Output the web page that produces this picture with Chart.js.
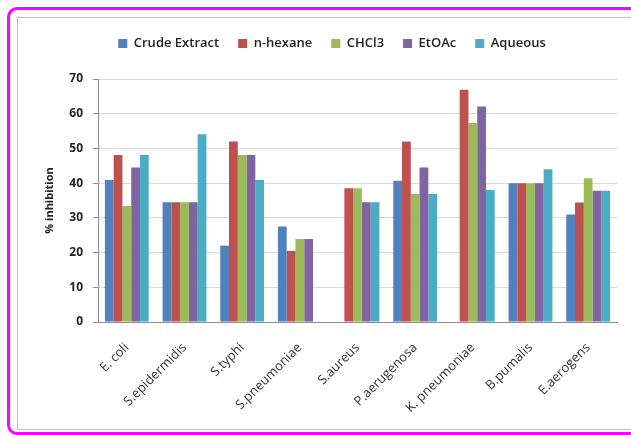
<!DOCTYPE html>
<html>
<head>
<meta charset="utf-8">
<script src="https://cdn.jsdelivr.net/npm/chart.js@4/dist/chart.umd.min.js"></script>
<style>
  html, body { margin: 0; padding: 0; background: #fff; }
  body { width: 631px; height: 435px; position: relative; overflow: hidden; }
  #outer {
    position: absolute; left: 7px; top: 7px; width: 640px; height: 422px;
    border: 3px solid #ff00ff; border-radius: 10px; box-sizing: content-box;
  }
  #frame {
    position: absolute; left: 17px; top: 17px; width: 640px; height: 411px;
    border: 1px solid #bfbfbf;
  }
  #wrap { position: absolute; left: 18px; top: 18px; width: 613px; height: 411px; }
</style>
</head>
<body>
<div id="outer"></div>
<div id="frame"></div>
<div id="wrap"><canvas id="c"></canvas></div>
<script>
// Bacterial strains tested
const categories = ['E. coli', 'S.epidermidis', 'S.typhi', 'S.pneumoniae', 'S.aureus',
                    'P.aerugenosa', 'K. pneumoniae', 'B.pumalis', 'E.aerogens'];

// % inhibition per extract (null = not active)
const crudeExtract = [40.9, 34.5, 22.0, 27.5, null, 40.7, null, 40.0, 31.0];
const nHexane      = [48.1, 34.5, 52.0, 20.5, 38.5, 52.0, 66.9, 40.0, 34.4];
const chcl3        = [33.4, 34.5, 48.1, 23.9, 38.5, 36.9, 57.3, 40.0, 41.4];
const etoac        = [44.5, 34.5, 48.1, 23.9, 34.5, 44.5, 62.1, 40.0, 37.8];
const aqueous      = [48.1, 54.1, 40.9, null, 34.5, 36.9, 38.0, 44.0, 37.8];

const yTicks = [0, 10, 20, 30, 40, 50, 60, 70];

const FONT = '"Open Sans", Lato, sans-serif';

// Fixed box sizes for the axes and legend
const sizing = {
  id: 'sizing',
  beforeInit(chart) {
    const lg = chart.legend;
    if (lg) {
      const fit = lg.fit.bind(lg);
      lg.fit = function () { fit(); this.height = 61; };
    }
  },
  afterLayout(chart) {
    const lg = chart.legend;
    lg.left = 0;
    lg.right = 628;
    lg.width = 628;
  }
};

new Chart(document.getElementById('c'), {
  type: 'bar',
  data: {
    labels: categories,
    datasets: [
      { label: 'Crude Extract', data: crudeExtract, backgroundColor: '#4F81BD' },
      { label: 'n-hexane',      data: nHexane,      backgroundColor: '#C0504D' },
      { label: 'CHCl3',         data: chcl3,        backgroundColor: '#9BBB59' },
      { label: 'EtOAc',         data: etoac,        backgroundColor: '#8064A2' },
      { label: 'Aqueous',       data: aqueous,      backgroundColor: '#4BACC6' }
    ]
  },
  options: {
    responsive: true,
    maintainAspectRatio: false,
    animation: false,
    layout: { padding: { left: 0, right: 14, top: 0, bottom: 0 } },
    datasets: { bar: { categoryPercentage: 0.76, barPercentage: 1.0 } },
    plugins: {
      legend: {
        position: 'top',
        labels: {
          boxWidth: 9, boxHeight: 9, padding: 19,
          color: '#222',
          font: { family: FONT, size: 13, weight: '600' }
        }
      },
      tooltip: { enabled: false }
    },
    scales: {
      x: {
        grid: { display: false },
        border: { display: true, color: '#8c8c8c', width: 1 },
        ticks: {
          autoSkip: false, minRotation: 45, maxRotation: 45,
          color: '#333', padding: 10,
          font: { family: FONT, size: 13 }
        },
        afterFit(scale) { scale.height = 107; }
      },
      y: {
        min: 0, max: 70,
        afterBuildTicks(scale) { scale.ticks = yTicks.map(v => ({ value: v })); },
        grid: { color: '#d9d9d9', tickColor: '#8c8c8c', tickLength: 5, lineWidth: 1 },
        border: { display: true, color: '#8c8c8c', width: 1 },
        ticks: {
          padding: 10, color: '#222',
          font: { family: FONT, size: 12, weight: 'bold' }
        },
        title: {
          display: true, text: '% inhibition', color: '#222',
          padding: { top: 25, bottom: 0 },
          font: { family: FONT, size: 11, weight: 'bold' }
        },
        afterFit(scale) { scale.width = 80; }
      }
    }
  },
  plugins: [sizing]
});
</script>
</body>
</html>
